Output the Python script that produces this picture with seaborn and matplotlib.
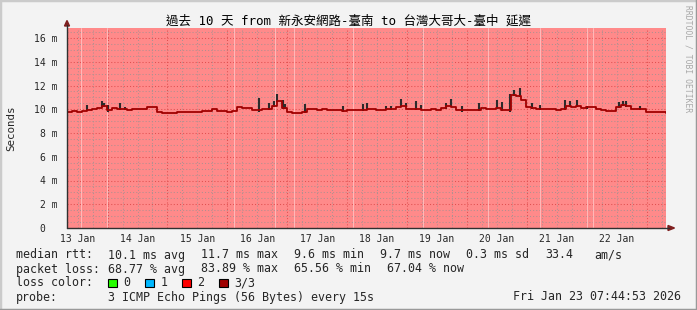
import numpy as np
import pandas as pd
import matplotlib
matplotlib.use("Agg")
import matplotlib.pyplot as plt
from matplotlib.lines import Line2D
from matplotlib.patches import Rectangle, Polygon
import seaborn as sns

# ---------------- data ----------------
title = "過去 10 天 from 新永安網路-臺南 to 台灣大哥大-臺中 延遲"
start = pd.Timestamp("2026-01-13 07:44:53")
end = pd.Timestamp("2026-01-23 07:44:53")
step_hours = 2

median_ms = [
    9.8, 9.85, 9.8, 9.85, 9.95, 10.0, 10.1, 10.25, 9.9, 10.1,
    10.05, 10.0, 9.95, 10.0, 10.0, 10.0, 10.2, 10.15, 9.75, 9.7,
    9.7, 9.7, 9.75, 9.8, 9.8, 9.75, 9.8, 9.85, 9.85, 10.05,
    9.85, 9.85, 9.8, 9.85, 10.15, 10.1, 10.1, 9.9, 9.9, 10.05,
    10.0, 10.3, 10.7, 10.1, 9.75, 9.7, 9.7, 9.8, 10.0, 10.0,
    9.95, 10.05, 9.9, 9.9, 9.95, 9.85, 9.9, 9.95, 9.9, 9.95,
    10.0, 10.0, 9.95, 9.95, 10.05, 10.05, 10.15, 10.25, 10.0, 10.05,
    10.0, 9.95, 9.95, 10.0, 9.95, 10.1, 10.3, 10.2, 9.95, 9.9,
    9.95, 9.9, 9.95, 10.1, 10.05, 10.0, 10.1, 9.95, 9.9, 11.2,
    11.1, 10.8, 10.15, 10.1, 10.0, 10.05, 10.0, 10.0, 9.95, 10.0,
    10.3, 10.2, 10.3, 10.1, 10.15, 10.2, 10.0, 9.9, 9.85, 9.85,
    10.2, 10.4, 10.3, 10.0, 10.05, 10.05, 9.8, 9.8, 9.8, 9.75,
]
now_ms = 9.7

spike_hours = [8, 14, 14.8, 16.6, 21.3, 23.3, 77, 81, 83, 84.1, 86.4, 87.3,
               95.4, 110.4, 118.4, 120, 128, 129.7, 134, 135.7, 139.7, 141.7,
               151.7, 153.7, 158.4, 165, 172.4, 174.4, 177.4, 179, 181.7,
               186.4, 189.7, 199.7, 201.7, 204.4, 208.4, 221, 222.6, 224, 229.7]
spike_top_ms = [10.33, 10.67, 10.53, 10.39, 10.53, 10.2, 10.95, 10.53, 10.67,
                11.26, 10.8, 10.44, 10.44, 10.25, 10.44, 10.53, 10.3, 10.3,
                10.86, 10.5, 10.69, 10.36, 10.5, 10.86, 10.3, 10.5, 10.78,
                10.58, 11.26, 11.6, 11.76, 10.5, 10.36, 10.78, 10.69, 10.78,
                10.3, 10.58, 10.69, 10.69, 10.3]

stripe_hours = [5.7, 16, 66.9, 83.3, 91, 114.4, 142.5, 168.5, 189.7, 208.5, 210.9]

day_labels = ["13 Jan", "14 Jan", "15 Jan", "16 Jan", "17 Jan",
              "18 Jan", "19 Jan", "20 Jan", "21 Jan", "22 Jan"]
ytick_vals = [0, 2, 4, 6, 8, 10, 12, 14, 16]
ytick_labels = ["0\u00a0\u00a0", "2 m", "4 m", "6 m", "8 m", "10 m", "12 m", "14 m", "16 m"]

median_label = "median rtt:"
median_items = ["10.1 ms avg", "11.7 ms max", "9.6 ms min", "9.7 ms now",
                "0.3 ms sd", "33.4", "am/s"]
loss_label = "packet loss:"
loss_items = ["68.77 % avg", "83.89 % max", "65.56 % min", "67.04 % now"]
loss_color_label = "loss color:"
loss_colors = ["#26ff00", "#00b8ff", "#ff0000", "#a00000"]
loss_names = ["0", "1", "2", "3/3"]
probe_label = "probe:"
probe_text = "3 ICMP Echo Pings (56 Bytes) every 15s"
stamp_text = "Fri Jan 23 07:44:53 2026"
watermark = "RRDTOOL / TOBI OETIKER"

# ---------------- style ----------------
sns.set_style("white")
MONO = ["DejaVu Sans Mono", "Noto Sans CJK TC", "DejaVu Sans"]
plt.rcParams["font.family"] = MONO

BG = "#f3f3f3"
PINK = "#ff8a8a"
W, H = 697, 310
L, R, T, B = 67, 666, 28, 228
CHAR = 7.02   # px per legend character
GAP = 16      # px between legend groups


def fx(x):
    return x / W


def fy(y):
    return 1 - y / H


fig = plt.figure(figsize=(W / 100, H / 100), dpi=100, facecolor=BG)
ax = fig.add_axes([fx(L), fy(B), (R - L) / W, (B - T) / H])
ax.set_facecolor(PINK)

n = len(median_ms)
times = list(start + pd.to_timedelta(np.arange(n) * step_hours, unit="h")) + [end]
vals = median_ms + [now_ms]
df = pd.DataFrame({"time": times, "rtt": vals})

# grid
ymax = (B - T) / 11.875
minor_y = np.arange(0.5, ymax, 0.5)
for y in minor_y:
    if abs(y / 2 - round(y / 2)) < 1e-6:
        ax.axhline(y, color="#e05050", lw=0.75, dashes=(1, 2), zorder=1)
    else:
        ax.axhline(y, color="#b09090", lw=0.75, dashes=(1, 2), zorder=1)

six_h = pd.date_range(start.ceil("6h"), end, freq="6h")
for t in six_h:
    if t.hour == 0:
        ax.axvline(t, color="#e05050", lw=0.75, dashes=(1, 2), zorder=1)
    else:
        ax.axvline(t, color="#b09090", lw=0.75, dashes=(1, 2), zorder=1)

for h in stripe_hours:
    ax.axvline(start + pd.Timedelta(hours=h), color="#ffb8b8", lw=0.72, zorder=1.5)

# smoke spikes
sp_t = [start + pd.Timedelta(hours=h) for h in spike_hours]
sp_bottom = [median_ms[min(int(h // step_hours), n - 1)] - 0.1 for h in spike_hours]
ax.vlines(sp_t, sp_bottom, spike_top_ms, color="#2b2b2b", lw=1.5, zorder=2)

# median line
sns.lineplot(data=df, x="time", y="rtt", ax=ax, drawstyle="steps-post",
             color="#a00000", lw=1.3, estimator=None, zorder=3)

ax.set_xlim(start, end)
ax.set_ylim(0, ymax)
ax.set_xlabel("")
ax.set_ylabel("")
for s in ax.spines.values():
    s.set_visible(False)

noons = [pd.Timestamp(f"2026-01-{d} 12:00") for d in range(13, 23)]
ax.set_xticks(noons)
ax.set_xticklabels(day_labels, fontsize=7, family=MONO)
midnights = pd.date_range("2026-01-14", "2026-01-23", freq="D")
ax.set_xticks(midnights, minor=True)
ax.tick_params(axis="x", which="major", length=0, pad=4.5)
ax.tick_params(axis="x", which="minor", length=2.5, color="#e04040", width=0.8)

ax.set_yticks(ytick_vals)
ax.set_yticklabels(ytick_labels, fontsize=7, family=MONO)
ax.set_yticks(minor_y, minor=True)
ax.tick_params(axis="y", which="major", length=2.5, color="#e04040", width=0.8, pad=4.5)
ax.tick_params(axis="y", which="minor", length=2, color="#a0a0a0", width=0.8)
ax.grid(False)

# axes lines + arrows
fig.add_artist(Line2D([fx(L), fx(669)], [fy(B), fy(B)], color="#303030", lw=1.0))
fig.add_artist(Line2D([fx(L), fx(L)], [fy(B), fy(25)], color="#303030", lw=1.0))
fig.add_artist(Polygon([[fx(668), fy(225.5)], [fx(674.5), fy(228)], [fx(668), fy(230.5)]],
                       closed=True, color="#7f1f1f", transform=fig.transFigure))
fig.add_artist(Polygon([[fx(64.5), fy(26)], [fx(67), fy(20.5)], [fx(69.5), fy(26)]],
                       closed=True, color="#7f1f1f", transform=fig.transFigure))

# title and labels
fig.text(0.5, fy(21), title, ha="center", va="center", fontsize=9, family=MONO, color="#000000")
fig.text(fx(11), fy(128), "Seconds", rotation=90, ha="center", va="center",
         fontsize=7.8, family=MONO)
fig.text(fx(688), fy(5), watermark, rotation=270, ha="center", va="top",
         fontsize=5.8, family=MONO, color="#a8a8a8")

# legend lines
LS = 8.4
COL = 107.5


def legend_row(y, label, items):
    fig.text(fx(16), fy(y), label, ha="left", va="center", fontsize=LS, family=MONO)
    x = COL
    for k, it in enumerate(items):
        fig.text(fx(x), fy(y), it, ha="left", va="center", fontsize=LS, family=MONO)
        x += len(it) * CHAR + GAP + (5 if it == "33.4" else 0)


legend_row(255, median_label, median_items)
legend_row(269, loss_label, loss_items)
fig.text(fx(16), fy(283), loss_color_label, ha="left", va="center", fontsize=LS, family=MONO)
for k, (c, nm) in enumerate(zip(loss_colors, loss_names)):
    x0 = 108 + 37 * k
    fig.add_artist(Rectangle((fx(x0), fy(287)), 8.5 / W, 8.5 / H, facecolor=c,
                             edgecolor="#000000", lw=0.8, transform=fig.transFigure))
    fig.text(fx(x0 + 15.5), fy(283), nm, ha="left", va="center", fontsize=LS, family=MONO)
fig.text(fx(16), fy(297), probe_label, ha="left", va="center", fontsize=LS, family=MONO)
fig.text(fx(COL), fy(297), probe_text, ha="left", va="center", fontsize=LS, family=MONO)
fig.text(fx(681), fy(297), stamp_text, ha="right", va="center", fontsize=LS, family=MONO)

# frame
fig.add_artist(Line2D([0, 0, 1], [0, 1, 1], color="#cbcbcb", lw=2.5, transform=fig.transFigure))
fig.add_artist(Line2D([0, 1, 1], [0, 0, 1], color="#999999", lw=2.5, transform=fig.transFigure))

fig.savefig("out.png", dpi=100, facecolor=BG)
